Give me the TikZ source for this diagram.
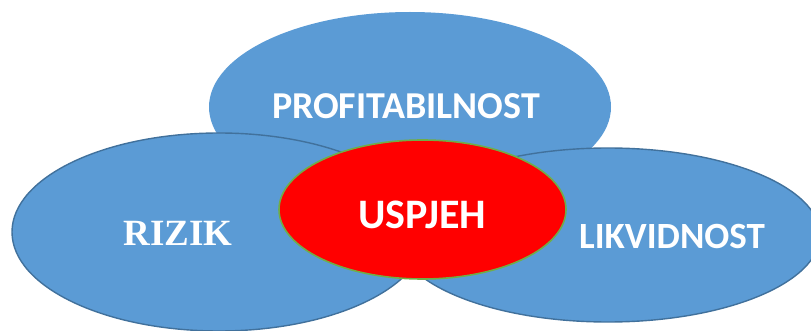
\documentclass[tikz,border=0pt]{standalone}
\usepackage{fontspec}
\setmainfont{Carlito}
\newfontfamily\serifbold{Liberation Serif}
\usetikzlibrary{shapes}
\definecolor{ovalblue}{HTML}{5B9BD5}
\definecolor{ovalline}{HTML}{41719C}
\definecolor{ovalgreen}{HTML}{70AD47}

\begin{document}
\begin{tikzpicture}[x=1pt, y=-1pt,
        every ellipse node/.append style={inner sep=0pt},
        oval/.style={ellipse, fill=ovalblue, draw=ovalline, line width=1.4pt}]
      \tikzstyle{word} = [font=\bfseries\fontsize{38}{40}\selectfont, color=white]
      \useasboundingbox (0,0) rectangle (811,331);
      \clip (0,0) rectangle (811,331);
      \node (PROFIT) [oval, draw=none, minimum width=402pt, minimum height=190pt] at (410,107) {};
      \node (RIZIK) [oval, minimum width=414pt, minimum height=198pt] at (219,232) {};
      \node (LIKVID) [oval, minimum width=424pt, minimum height=174pt] at (608,235) {};
      \node (USPJEH) [ellipse, fill=red, draw=ovalgreen, line width=1.6pt,
        minimum width=287pt, minimum height=139pt] at (422.5,209.5) {};
      \node (profittext) [word] at (406,106) {PROFITABILNOST};
      \node (riziktext) [word, font=\serifbold\bfseries\fontsize{37}{40}\selectfont] at (178,233) {RIZIK};
      \node (likvidtext) [word, font=\bfseries\fontsize{37}{40}\selectfont] at (672,236) {LIKVIDNOST};
      \node (uspjehtext) [word, font=\bfseries\fontsize{42}{44}\selectfont] at (422,215) {USPJEH};
    \end{tikzpicture}
\end{document}
